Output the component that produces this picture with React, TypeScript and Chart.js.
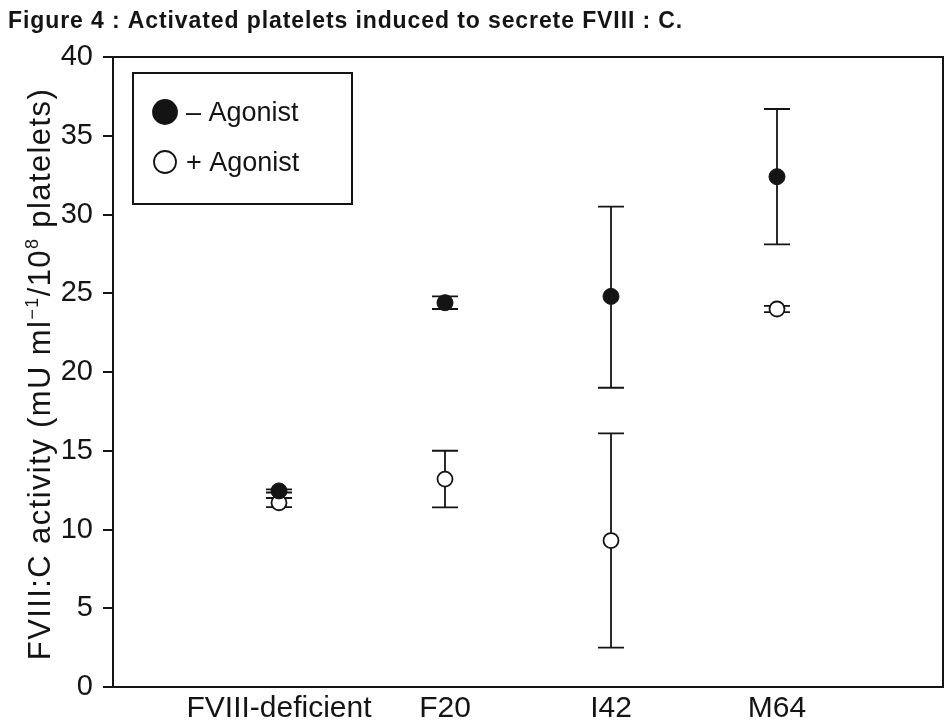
import React, { useEffect, useRef } from 'react';
import { Chart, registerables } from 'chart.js';

Chart.register(...registerables);

// ---- data ----
const categories = ['FVIII-deficient', 'F20', 'I42', 'M64'];
const seriesLabels = ['– Agonist', '+ Agonist'];
const minusMean = [12.45, 24.4, 24.8, 32.4];
const minusLow = [12.35, 24.0, 19.0, 28.1];
const minusHigh = [12.55, 24.8, 30.5, 36.7];
const plusMean = [11.7, 13.2, 9.3, 24.0];
const plusLow = [11.42, 11.4, 2.5, 23.8];
const plusHigh = [12.0, 15.0, 16.1, 24.2];
const yMin = 0;
const yMax = 40;
const yStep = 5;
const titleText = 'Figure 4 : Activated platelets induced to secrete FVIII : C.';
const yTitleParts = [
  { t: 'FVIII:C activity (mU ml', sup: false },
  { t: '−1', sup: true },
  { t: '/10', sup: false },
  { t: '8', sup: true },
  { t: ' platelets)', sup: false },
];

const FONT = '"Liberation Sans", Arial, Helvetica, sans-serif';
const INK = '#141414';

const makePoints = (mean: number[], lo: number[], hi: number[]) =>
  mean.map((m, i) => ({ x: i + 1, y: m, yMin: lo[i], yMax: hi[i] }));

const errorBars = {
  id: 'errorBars',
  beforeDatasetsDraw(chart: any) {
    const { ctx, scales } = chart;
    const x = scales.x;
    const y = scales.y;
    ctx.save();
    ctx.strokeStyle = INK;
    ctx.lineWidth = 1.8;
    chart.data.datasets.forEach((ds: any) => {
      ds.data.forEach((pt: any) => {
        const px = x.getPixelForValue(pt.x);
        const top = y.getPixelForValue(pt.yMax);
        const bot = y.getPixelForValue(pt.yMin);
        ctx.beginPath();
        ctx.moveTo(px, top);
        ctx.lineTo(px, bot);
        ctx.moveTo(px - 13, top);
        ctx.lineTo(px + 13, top);
        ctx.moveTo(px - 13, bot);
        ctx.lineTo(px + 13, bot);
        ctx.stroke();
      });
    });
    ctx.restore();
  },
};

const framePlugin = {
  id: 'frame',
  afterDraw(chart: any) {
    const { ctx, chartArea } = chart;
    ctx.save();
    ctx.strokeStyle = INK;
    ctx.lineWidth = 2;
    ctx.beginPath();
    ctx.moveTo(chartArea.left - 1, chartArea.top);
    ctx.lineTo(chartArea.right, chartArea.top);
    ctx.lineTo(chartArea.right, chartArea.bottom + 1);
    ctx.stroke();
    ctx.restore();
  },
};

const textPlugin = {
  id: 'texts',
  afterDraw(chart: any) {
    const { ctx } = chart;
    ctx.save();
    // Figure title
    ctx.fillStyle = INK;
    ctx.font = `bold 23px ${FONT}`;
    (ctx as any).letterSpacing = '0.9px';
    ctx.textBaseline = 'alphabetic';
    ctx.textAlign = 'left';
    ctx.fillText(titleText, 8, 28);

    // Y axis title (rotated, with superscripts)
    const mainFont = `31px ${FONT}`;
    const supFont = `18px ${FONT}`;
    (ctx as any).letterSpacing = '1.4px';
    let total = 0;
    yTitleParts.forEach((p) => {
      ctx.font = p.sup ? supFont : mainFont;
      total += ctx.measureText(p.t).width;
    });
    ctx.translate(50, 374);
    ctx.rotate(-Math.PI / 2);
    let cx = -total / 2;
    yTitleParts.forEach((p) => {
      ctx.font = p.sup ? supFont : mainFont;
      ctx.fillText(p.t, cx, p.sup ? -12 : 0);
      cx += ctx.measureText(p.t).width;
    });
    ctx.restore();

    // Legend
    ctx.save();
    (ctx as any).letterSpacing = '0px';
    ctx.strokeStyle = INK;
    ctx.lineWidth = 2;
    ctx.strokeRect(133, 73, 219, 131);
    const ds = chart.data.datasets;
    const rows = [112, 162];
    ds.forEach((d: any, i: number) => {
      ctx.beginPath();
      ctx.arc(165, rows[i], i === 0 ? 12 : 11, 0, Math.PI * 2);
      ctx.fillStyle = d.backgroundColor;
      ctx.fill();
      ctx.lineWidth = 1.8;
      ctx.strokeStyle = INK;
      ctx.stroke();
      ctx.fillStyle = INK;
      ctx.font = `27px ${FONT}`;
      ctx.textBaseline = 'alphabetic';
      ctx.fillText(d.label, 186, rows[i] + 9);
    });
    ctx.restore();
  },
};

export default function App() {
  const ref = useRef<HTMLCanvasElement>(null);

  useEffect(() => {
    if (!ref.current) return;
    const chart = new Chart(ref.current, {
      type: 'scatter',
      data: {
        datasets: [
          {
            label: seriesLabels[0],
            data: makePoints(minusMean, minusLow, minusHigh) as any,
            backgroundColor: INK,
            borderColor: INK,
            borderWidth: 1,
            pointRadius: 8,
          },
          {
            label: seriesLabels[1],
            data: makePoints(plusMean, plusLow, plusHigh) as any,
            backgroundColor: '#ffffff',
            borderColor: INK,
            borderWidth: 1.8,
            pointRadius: 7.5,
          },
        ],
      },
      options: {
        responsive: false,
        animation: false,
        devicePixelRatio: 1,
        layout: { autoPadding: false, padding: { top: 57, right: 3, left: 0, bottom: 0 } },
        plugins: {
          legend: { display: false },
          tooltip: { enabled: false },
          title: { display: false },
        },
        scales: {
          x: {
            type: 'linear',
            min: 0,
            max: categories.length + 1,
            afterBuildTicks: (scale: any) => {
              scale.ticks = categories.map((_, i) => ({ value: i + 1 }));
            },
            afterFit: (scale: any) => {
              scale.height = 40;
              scale.paddingLeft = 0;
              scale.paddingRight = 0;
            },
            grid: { display: false, drawTicks: false },
            border: { display: true, color: INK, width: 2 },
            ticks: {
              autoSkip: false,
              maxRotation: 0,
              padding: 4,
              color: INK,
              font: { family: FONT, size: 30 },
              callback: (v: any) => categories[Math.round(v) - 1] ?? '',
            },
          },
          y: {
            min: yMin,
            max: yMax,
            afterFit: (scale: any) => {
              scale.width = 113;
            },
            grid: {
              display: true,
              drawOnChartArea: false,
              drawTicks: true,
              tickLength: 10,
              color: INK,
              lineWidth: 2,
            },
            border: { display: true, color: INK, width: 2 },
            ticks: {
              stepSize: yStep,
              padding: 10,
              color: INK,
              font: { family: FONT, size: 29 },
            },
          },
        },
      },
      plugins: [errorBars, framePlugin, textPlugin],
    });
    return () => chart.destroy();
  }, []);

  return (
    <div style={{ position: 'absolute', left: 0, top: 0, width: 946, height: 727, background: '#fff' }}>
      <canvas ref={ref} width={946} height={727} style={{ display: 'block' }} />
    </div>
  );
}
